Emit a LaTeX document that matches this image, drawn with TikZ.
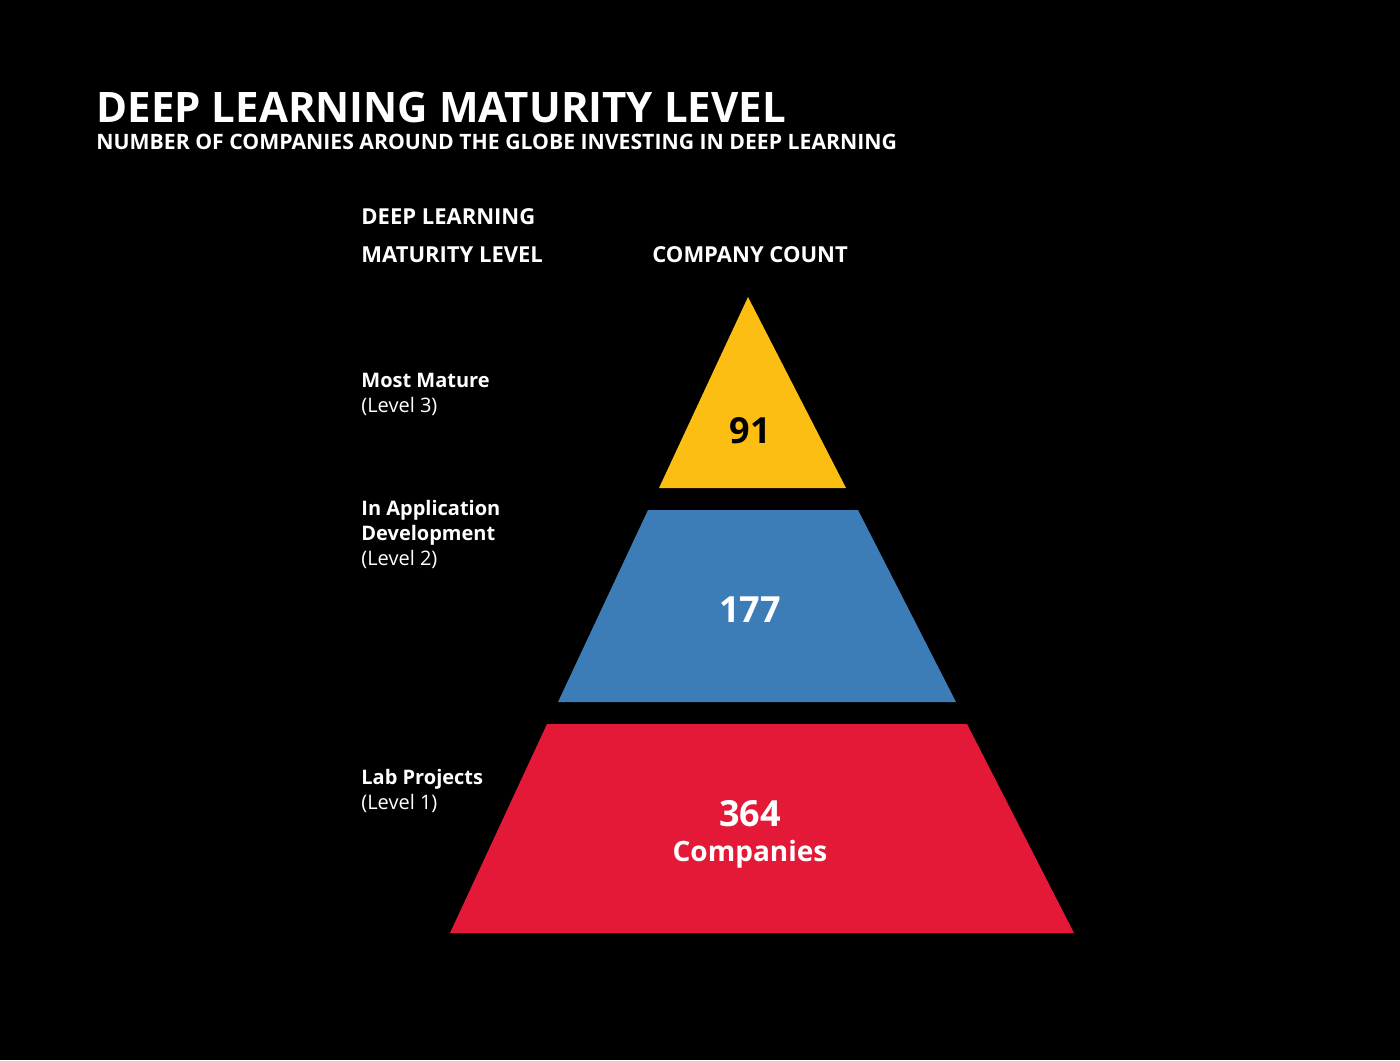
\documentclass[tikz,border=0pt]{standalone}
\usepackage{fontspec}
\setmainfont{Open Sans}
\definecolor{lvlthree}{HTML}{FDBE14}
\definecolor{lvltwo}{HTML}{3C7DB8}
\definecolor{lvlone}{HTML}{E31937}
\begin{document}
\begin{tikzpicture}[x=0.5pt,y=-0.5pt,
	every node/.style={text=white,inner sep=0pt,anchor=base west,align=left},
	head/.style={font=\fontsize{11}{19}\selectfont\bfseries},
	lbl/.style={font=\fontsize{10}{12.5}\selectfont},
	count/.style={font=\fontsize{18}{20}\selectfont\bfseries,anchor=base,align=center}]
	\fill[black] (0,0) rectangle (1400,1060);
	
	\node (title) at (96,122) {\fontsize{21}{24}\selectfont\bfseries DEEP LEARNING MATURITY LEVEL};
	\node (sub) at (96,149) {\fontsize{10.6}{12}\selectfont\bfseries NUMBER OF COMPANIES AROUND THE GLOBE INVESTING IN DEEP LEARNING};
	
	\node[head] (lvlhead) at (361,262) {DEEP LEARNING\\MATURITY LEVEL};
	\node[head] (cnthead) at (652,262) {COMPANY COUNT};
	
	% pyramid
	\fill[lvlthree] (748,297) -- (846,488) -- (659,488) -- cycle;
	\fill[lvltwo] (648,510) -- (858,510) -- (956,702) -- (558,702) -- cycle;
	\fill[lvlone] (547,724) -- (967,724) -- (1074,933) -- (450,933) -- cycle;
	
	\node[count,text=black] (c3) at (750,443) {91};
	\node[count] (c2) at (750,622) {177};
	\node[count] (c1) at (750,826) {364};
	\node[anchor=base,font=\fontsize{14}{16}\selectfont\bfseries] (comp) at (750,861) {Companies};
	
	\node[lbl] (l3) at (361,412) {\textbf{Most Mature}\\(Level 3)};
	\node[lbl] (l2) at (361,565) {\textbf{In Application}\\\textbf{Development}\\(Level 2)};
	\node[lbl] (l1) at (361,809) {\textbf{Lab Projects}\\(Level 1)};
\end{tikzpicture}
\end{document}
